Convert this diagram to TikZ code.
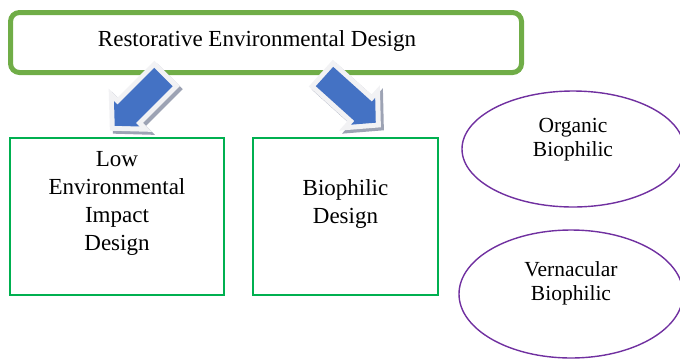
\documentclass[tikz,border=0pt]{standalone}
\usepackage{fontspec}
\setmainfont{Liberation Serif}
\usetikzlibrary{shapes.geometric}
\definecolor{topgreen}{HTML}{70AD47}
\definecolor{boxgreen}{HTML}{00B050}
\definecolor{ovalpurple}{HTML}{7030A0}
\definecolor{arrowblue}{HTML}{4472C4}
\definecolor{arrowrim}{HTML}{F2F2F4}
\definecolor{arrowshade}{HTML}{9DA3B4}
\tikzset{
  titlebox/.style={draw=topgreen, line width=5pt, rounded corners=9pt, inner sep=0pt},
  stagebox/.style={draw=boxgreen, line width=1.4pt, inner sep=0pt},
  bigtext/.style={align=center, inner sep=0pt, font=\fontsize{23}{28}\selectfont},
  oval/.style={draw=ovalpurple, line width=1.4pt, ellipse, inner sep=0pt},
  ovaltext/.style={align=center, inner sep=0pt, font=\fontsize{21.5}{24.5}\selectfont},
  pics/blockarrow/.style={code={
    \path[pic actions] (0,13) -- (52,13) -- (52,18) -- (69,0) -- (52,-18) -- (52,-13) -- (0,-13) -- cycle;
  }},
  arrowshadow/.style={fill=arrowshade, draw=arrowshade, line width=10pt, line join=miter},
  arrowborder/.style={fill=arrowrim, draw=arrowrim, line width=10pt, line join=miter},
  arrowbody/.style={fill=arrowblue},
}
\begin{document}
\begin{tikzpicture}[x=1pt, y=-1pt]
  \useasboundingbox (0,0) rectangle (680,360);

  % title and the two design approaches
  \node[titlebox, minimum width=511pt, minimum height=60pt] (red) at (266,42.5) {};
  \node[bigtext] (redtext) at (257,41) {Restorative Environmental Design};
  \node[stagebox, minimum width=214pt, minimum height=157pt] (lowimpact) at (117,216.5) {};
  \node[bigtext] (lowimpacttext) at (117,203.5) {Low\\Environmental\\Impact\\Design};
  \node[stagebox, minimum width=185pt, minimum height=157pt] (biophilic) at (345.5,216.5) {};
  \node[bigtext] (biophilictext) at (345.5,203.5) {Biophilic\\Design};

  % biophilic sub-types
  \node[oval, minimum width=222pt, minimum height=116pt] (organic) at (573,149) {};
  \node[ovaltext] (organictext) at (573,139.5) {Organic\\Biophilic};
  \node[oval, minimum width=224pt, minimum height=128pt] (vernacular) at (571,294) {};
  \node[ovaltext] (vernaculartext) at (571,283.5) {Vernacular\\Biophilic};

  % block arrows from the title down to each approach
  \coordinate (leftarrow) at (163.5,77);
  \coordinate (rightarrow) at (324.5,76.5);
  \pic[arrowshadow, shift={(3,3)}, rotate=225] at (leftarrow) {blockarrow};
  \pic[arrowborder, rotate=225] at (leftarrow) {blockarrow};
  \pic[arrowbody, rotate=225] at (leftarrow) {blockarrow};
  \pic[arrowshadow, shift={(3,3)}, rotate=-42] at (rightarrow) {blockarrow};
  \pic[arrowborder, rotate=-42] at (rightarrow) {blockarrow};
  \pic[arrowbody, rotate=-42] at (rightarrow) {blockarrow};
\end{tikzpicture}
\end{document}
